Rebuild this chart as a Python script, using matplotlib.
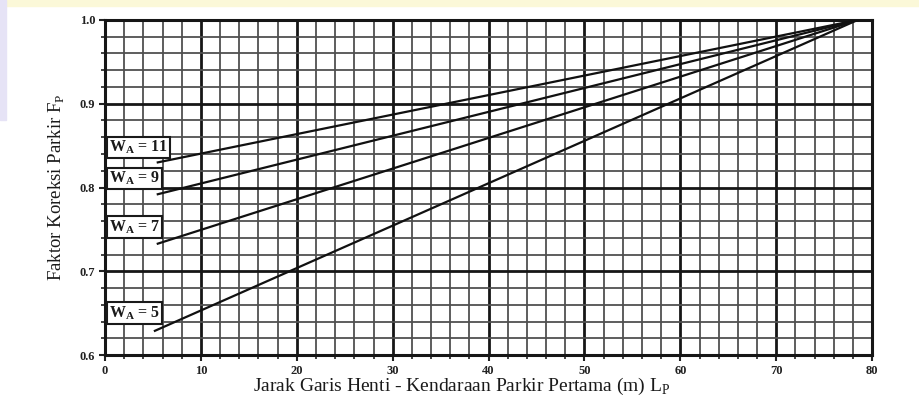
import matplotlib.pyplot as plt
import matplotlib.patches as mpatches
import numpy as np

# Parking correction factor curves: straight lines for each approach width W_A
wa_values = [11, 9, 7, 5]
lp_start = [5.5, 5.5, 5.5, 5.2]
fp_start = [0.830, 0.792, 0.733, 0.629]
lp_end = [78.5, 78.5, 78.5, 78.5]
fp_end = [1.0, 1.0, 1.0, 1.0]

# label box anchor (x, y) in data units
label_pos = [(0.4, 0.848), (0.4, 0.811), (0.4, 0.753), (0.4, 0.650)]

x_ticks = [0, 10, 20, 30, 40, 50, 60, 70, 80]
y_ticks = [0.6, 0.7, 0.8, 0.9, 1.0]

plt.rcParams['font.family'] = ['Liberation Serif', 'DejaVu Serif']

fig = plt.figure(figsize=(9.19, 3.99), dpi=100)
ax = fig.add_axes([0.1143, 0.110, 0.8347, 0.840])

# faint page tint around the chart
fig.patches.append(mpatches.Rectangle((0, 0.985), 1, 0.015, transform=fig.transFigure,
                                      color='#fbf8d8', zorder=0))
fig.patches.append(mpatches.Rectangle((0, 0.70), 0.007, 0.30, transform=fig.transFigure,
                                      color='#e6e3f6', zorder=0))

ax.set_xlim(0, 80)
ax.set_ylim(0.6, 1.0)

# grid: minor every 2 m / 0.02, major every 10 m / 0.1
ax.set_xticks(x_ticks)
ax.set_yticks(y_ticks)
ax.set_xticks(np.arange(0, 81, 2), minor=True)
ax.set_yticks(np.arange(0.6, 1.001, 0.02), minor=True)
ax.grid(which='minor', color='#505050', linewidth=1.3, zorder=1)
ax.grid(which='major', color='#161616', linewidth=2.0, zorder=1)

ax.set_xticklabels([str(t) for t in x_ticks], fontsize=9, fontweight='bold', color='#222222')
ax.set_yticklabels(['%.1f' % t for t in y_ticks], fontsize=9, fontweight='bold', color='#222222')
ax.tick_params(which='major', length=4, width=1.5, color='#222222', pad=3)
ax.tick_params(which='minor', length=3, width=1.2, color='#222222')

for sp in ax.spines.values():
    sp.set_linewidth(2.2)
    sp.set_color('#161616')

for wa, x0, y0, x1, y1, (lx, ly) in zip(wa_values, lp_start, fp_start, lp_end, fp_end, label_pos):
    ax.plot([x0, x1], [y0, y1], color='#111111', linewidth=1.6, zorder=3)
    ax.text(lx, ly, r'W$_\mathregular{A}$ = %d' % wa, fontsize=11.5, fontweight='bold',
            color='#1a1a1a', va='center', ha='left', zorder=4,
            bbox=dict(boxstyle='square,pad=0.12', facecolor='white',
                      edgecolor='#1a1a1a', linewidth=1.5))

ax.set_xlabel(r'Jarak Garis Henti - Kendaraan Parkir Pertama (m) L$_\mathregular{P}$',
              fontsize=14, color='#1a1a1a')
ax.xaxis.set_label_coords(0.465, -0.062)
ax.set_ylabel(r'Faktor Koreksi Parkir F$_\mathregular{P}$', fontsize=13.5,
              color='#1a1a1a', labelpad=9)

fig.savefig('out.png', dpi=100, facecolor='white')
